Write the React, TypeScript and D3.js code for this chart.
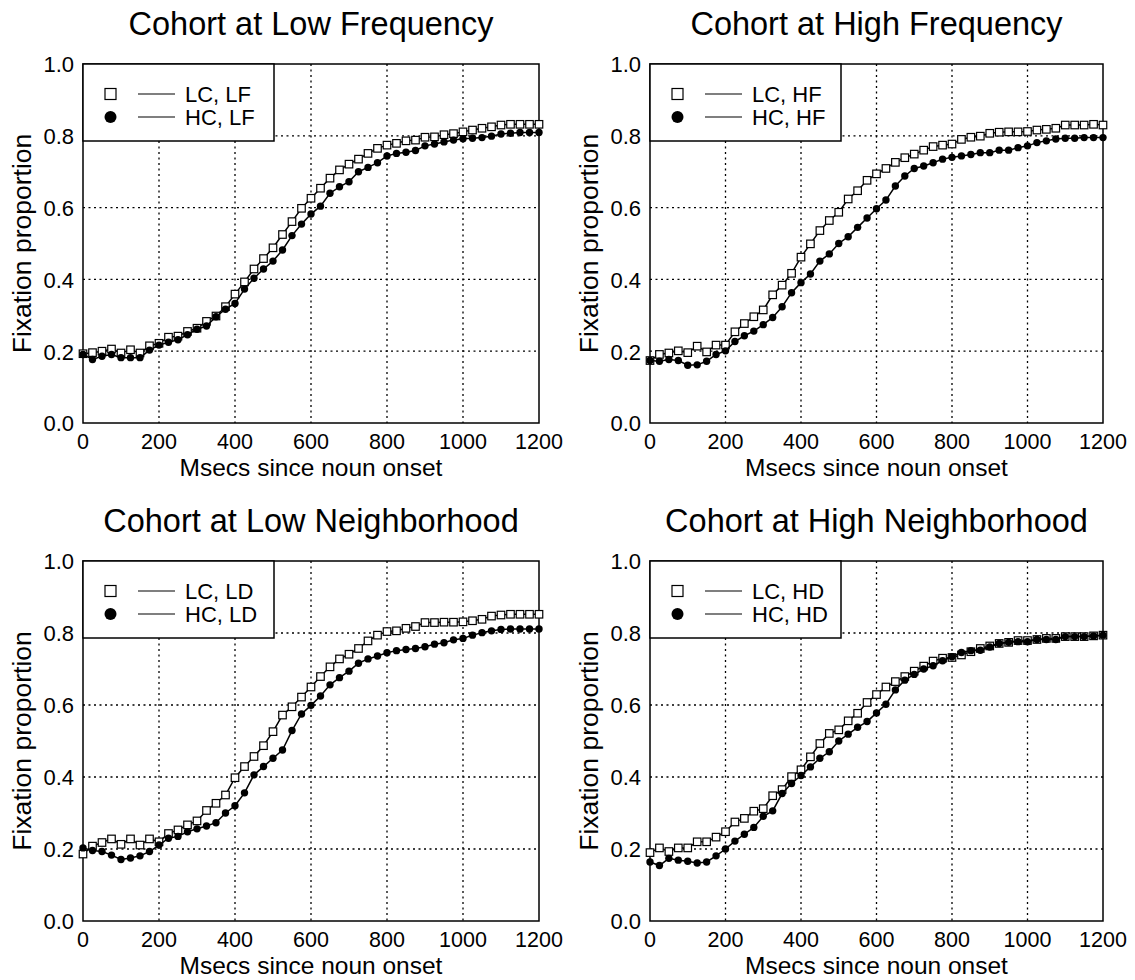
import React from 'react'
import * as d3 from 'd3'

// time points (ms since noun onset)
const msecs = [0, 25, 50, 75, 100, 125, 150, 175, 200, 225, 250, 275, 300, 325, 350, 375, 400, 425, 450, 475, 500, 525, 550, 575, 600, 625, 650, 675, 700, 725, 750, 775, 800, 825, 850, 875, 900, 925, 950, 975, 1000, 1025, 1050, 1075, 1100, 1125, 1150, 1175, 1200]
const xTicks = [0, 200, 400, 600, 800, 1000, 1200]
const yTicks = [0, 0.2, 0.4, 0.6, 0.8, 1.0]

const lcLF = [0.193, 0.196, 0.200, 0.206, 0.195, 0.204, 0.195, 0.215, 0.222, 0.239, 0.242, 0.255, 0.264, 0.283, 0.298, 0.324, 0.359, 0.393, 0.429, 0.458, 0.488, 0.525, 0.561, 0.598, 0.626, 0.654, 0.682, 0.705, 0.721, 0.735, 0.751, 0.765, 0.774, 0.779, 0.786, 0.788, 0.796, 0.797, 0.803, 0.806, 0.811, 0.816, 0.821, 0.825, 0.830, 0.832, 0.832, 0.832, 0.832]
const hcLF = [0.191, 0.177, 0.186, 0.191, 0.182, 0.182, 0.182, 0.203, 0.217, 0.225, 0.232, 0.246, 0.261, 0.270, 0.296, 0.317, 0.333, 0.373, 0.403, 0.429, 0.451, 0.482, 0.522, 0.554, 0.582, 0.604, 0.640, 0.658, 0.672, 0.700, 0.712, 0.725, 0.744, 0.751, 0.754, 0.759, 0.772, 0.777, 0.783, 0.788, 0.792, 0.793, 0.795, 0.799, 0.805, 0.807, 0.809, 0.809, 0.809]
const lcHF = [0.174, 0.191, 0.195, 0.201, 0.196, 0.214, 0.198, 0.217, 0.217, 0.254, 0.277, 0.296, 0.315, 0.357, 0.384, 0.417, 0.462, 0.499, 0.536, 0.564, 0.587, 0.624, 0.647, 0.676, 0.694, 0.709, 0.726, 0.739, 0.749, 0.760, 0.770, 0.774, 0.777, 0.790, 0.796, 0.799, 0.807, 0.810, 0.811, 0.811, 0.812, 0.816, 0.818, 0.821, 0.830, 0.830, 0.830, 0.832, 0.830]
const hcHF = [0.174, 0.172, 0.177, 0.174, 0.161, 0.162, 0.172, 0.191, 0.201, 0.227, 0.243, 0.256, 0.274, 0.294, 0.324, 0.363, 0.391, 0.415, 0.451, 0.471, 0.500, 0.519, 0.545, 0.571, 0.597, 0.621, 0.660, 0.688, 0.709, 0.716, 0.725, 0.735, 0.740, 0.744, 0.748, 0.753, 0.753, 0.760, 0.760, 0.767, 0.772, 0.781, 0.786, 0.791, 0.793, 0.793, 0.795, 0.795, 0.795]
const lcLD = [0.186, 0.208, 0.218, 0.228, 0.213, 0.228, 0.211, 0.228, 0.220, 0.243, 0.253, 0.267, 0.278, 0.307, 0.327, 0.350, 0.398, 0.429, 0.457, 0.487, 0.526, 0.572, 0.595, 0.622, 0.650, 0.679, 0.706, 0.728, 0.741, 0.757, 0.778, 0.794, 0.804, 0.806, 0.813, 0.818, 0.829, 0.829, 0.830, 0.830, 0.831, 0.834, 0.838, 0.847, 0.850, 0.852, 0.852, 0.852, 0.852]
const hcLD = [0.203, 0.196, 0.193, 0.183, 0.171, 0.175, 0.181, 0.193, 0.211, 0.230, 0.235, 0.248, 0.256, 0.264, 0.273, 0.300, 0.320, 0.356, 0.406, 0.429, 0.452, 0.475, 0.529, 0.575, 0.599, 0.625, 0.656, 0.676, 0.694, 0.716, 0.728, 0.736, 0.745, 0.751, 0.754, 0.757, 0.762, 0.769, 0.773, 0.781, 0.785, 0.794, 0.801, 0.806, 0.810, 0.811, 0.811, 0.811, 0.811]
const lcHD = [0.190, 0.203, 0.193, 0.203, 0.203, 0.220, 0.220, 0.233, 0.248, 0.275, 0.285, 0.305, 0.312, 0.348, 0.365, 0.401, 0.420, 0.456, 0.493, 0.521, 0.531, 0.556, 0.577, 0.607, 0.629, 0.650, 0.665, 0.679, 0.694, 0.708, 0.722, 0.730, 0.732, 0.739, 0.748, 0.757, 0.764, 0.771, 0.774, 0.779, 0.779, 0.782, 0.785, 0.785, 0.790, 0.790, 0.790, 0.792, 0.794]
const hcHD = [0.164, 0.154, 0.174, 0.169, 0.166, 0.161, 0.164, 0.181, 0.200, 0.222, 0.241, 0.260, 0.291, 0.306, 0.354, 0.382, 0.404, 0.428, 0.452, 0.470, 0.500, 0.519, 0.538, 0.554, 0.578, 0.602, 0.642, 0.669, 0.685, 0.700, 0.709, 0.723, 0.734, 0.746, 0.751, 0.752, 0.761, 0.771, 0.774, 0.776, 0.776, 0.782, 0.782, 0.782, 0.790, 0.790, 0.790, 0.792, 0.794]

const titles = ['Cohort at Low Frequency', 'Cohort at High Frequency', 'Cohort at Low Neighborhood', 'Cohort at High Neighborhood']
const lcNames = ['LC, LF', 'LC, HF', 'LC, LD', 'LC, HD']
const hcNames = ['HC, LF', 'HC, HF', 'HC, LD', 'HC, HD']
const lcSeries = [lcLF, lcHF, lcLD, lcHD]
const hcSeries = [hcLF, hcHF, hcLD, hcHD]

const font = 'Liberation Sans, Arial, Helvetica, sans-serif'

// plot box of each panel
const boxes = [
  { x: 83, y: 64, w: 456, h: 359 },
  { x: 650, y: 64, w: 453, h: 359 },
  { x: 83, y: 561, w: 456, h: 360 },
  { x: 650, y: 561, w: 453, h: 360 },
]

function Panel({ i }: { i: number }) {
  const b = boxes[i]
  const x = d3.scaleLinear().domain([0, 1200]).range([b.x, b.x + b.w])
  const y = d3.scaleLinear().domain([0, 1]).range([b.y + b.h, b.y])
  const line = d3.line<number>().x((d, k) => x(msecs[k])).y(d => y(d))
  const lc = lcSeries[i]
  const hc = hcSeries[i]
  const lx = b.x
  const ly = b.y
  const sq = 7.5

  return (
    <g>
      <text x={b.x + b.w / 2} y={b.y - 29} textAnchor='middle' fontSize={32.5}>{titles[i]}</text>
      {/* grid */}
      {xTicks.slice(1, -1).map(t => (
        <line key={'gx' + t} x1={x(t)} x2={x(t)} y1={b.y} y2={b.y + b.h}
          stroke='#000' strokeWidth={1.3} strokeDasharray='2,3.5' />
      ))}
      {yTicks.slice(1, -1).map(t => (
        <line key={'gy' + t} x1={b.x} x2={b.x + b.w} y1={y(t)} y2={y(t)}
          stroke='#000' strokeWidth={1.3} strokeDasharray='2,3.5' />
      ))}
      <rect x={b.x} y={b.y} width={b.w} height={b.h} fill='none' stroke='#000' strokeWidth={1.5} />
      {xTicks.map(t => (
        <text key={'tx' + t} x={x(t)} y={b.y + b.h + 26} textAnchor='middle' fontSize={21.5}>{t}</text>
      ))}
      {yTicks.map(t => (
        <text key={'ty' + t} x={b.x - 9} y={y(t)} dy='0.38em' textAnchor='end' fontSize={22}>{t.toFixed(1)}</text>
      ))}
      <text x={b.x + b.w / 2} y={b.y + b.h + 53} textAnchor='middle' fontSize={24.5}>Msecs since noun onset</text>
      <text transform={`translate(${b.x - 52},${b.y + b.h / 2}) rotate(-90)`} textAnchor='middle' fontSize={26.5}>Fixation proportion</text>

      {/* LC series: open squares */}
      <path d={line(lc) || ''} fill='none' stroke='#000' strokeWidth={1.5} />
      {lc.map((v, k) => (
        <rect key={'s' + k} x={x(msecs[k]) - sq / 2} y={y(v) - sq / 2} width={sq} height={sq}
          fill='#fff' stroke='#000' strokeWidth={1.2} />
      ))}
      {/* HC series: filled circles */}
      <path d={line(hc) || ''} fill='none' stroke='#000' strokeWidth={1.5} />
      {hc.map((v, k) => (
        <circle key={'c' + k} cx={x(msecs[k])} cy={y(v)} r={3.7} fill='#000' />
      ))}

      {/* legend */}
      <rect x={lx} y={ly} width={191} height={77} fill='#fff' stroke='#000' strokeWidth={1.5} />
      <rect x={lx + 22} y={ly + 30 - 5.5} width={11} height={11} fill='#fff' stroke='#000' strokeWidth={1.2} />
      <line x1={lx + 55} x2={lx + 92} y1={ly + 30} y2={ly + 30} stroke='#000' strokeWidth={1.1} />
      <text x={lx + 102} y={ly + 30} dy='0.36em' fontSize={22}>{lcNames[i]}</text>
      <circle cx={lx + 27.5} cy={ly + 53} r={6} fill='#000' />
      <line x1={lx + 55} x2={lx + 92} y1={ly + 53} y2={ly + 53} stroke='#000' strokeWidth={1.1} />
      <text x={lx + 102} y={ly + 53} dy='0.36em' fontSize={22}>{hcNames[i]}</text>
    </g>
  )
}

export default function App() {
  return (
    <svg width={1135} height={980} style={{ position: 'absolute', left: 0, top: 0, background: '#fff' }}
      fontFamily={font}>
      <rect width={1135} height={980} fill='#fff' />
      {[0, 1, 2, 3].map(i => <Panel key={i} i={i} />)}
    </svg>
  )
}
